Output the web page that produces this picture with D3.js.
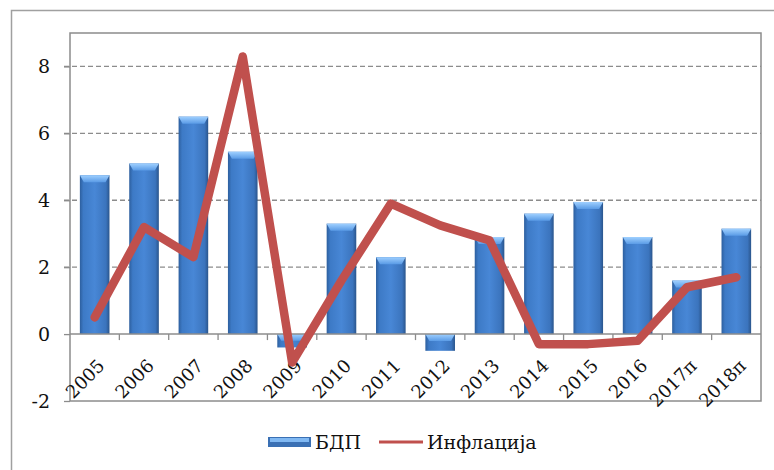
<!DOCTYPE html>
<html>
<head>
<meta charset="utf-8">
<script src="https://cdn.jsdelivr.net/npm/d3@7"></script>
<style>
  body { margin: 0; background: #fff; }
  text { font-family: "DejaVu Serif", "Liberation Serif", serif; fill: #111; }
</style>
</head>
<body>
<div id="chart"></div>
<script>
// data
var years = ["2005","2006","2007","2008","2009","2010","2011","2012","2013","2014","2015","2016","2017п","2018п"];
var gdp = [4.75, 5.1, 6.5, 5.45, -0.4, 3.3, 2.3, -0.5, 2.9, 3.6, 3.95, 2.9, 1.6, 3.15];
var inflation = [0.5, 3.2, 2.3, 8.3, -0.85, 1.6, 3.9, 3.25, 2.8, -0.3, -0.3, -0.2, 1.4, 1.7];
var yTicks = [-2, 0, 2, 4, 6, 8];
var seriesNames = ["БДП", "Инфлација"];

var W = 774, H = 470;
var margin = {top: 33, right: 13, bottom: 69, left: 70},
    width = W - margin.left - margin.right,
    height = H - margin.top - margin.bottom;

var svg = d3.select("#chart").append("svg")
    .attr("width", W).attr("height", H);

// gradients for the bevelled bars
var defs = svg.append("defs");
var g1 = defs.append("linearGradient").attr("id", "barGrad").attr("x1", 0).attr("x2", 1).attr("y1", 0).attr("y2", 0);
g1.append("stop").attr("offset", "0%").attr("stop-color", "#2d5f9e");
g1.append("stop").attr("offset", "12%").attr("stop-color", "#3d7ac6");
g1.append("stop").attr("offset", "50%").attr("stop-color", "#4887d6");
g1.append("stop").attr("offset", "88%").attr("stop-color", "#3b74bd");
g1.append("stop").attr("offset", "100%").attr("stop-color", "#2a558c");
var g2 = defs.append("linearGradient").attr("id", "topGrad").attr("x1", 0).attr("x2", 0).attr("y1", 0).attr("y2", 1);
g2.append("stop").attr("offset", "0%").attr("stop-color", "#9fd0ff");
g2.append("stop").attr("offset", "100%").attr("stop-color", "#5a9be6");

// outer frame
svg.append("path")
    .attr("d", "M11.5," + H + "V10.5H" + W)
    .attr("fill", "none").attr("stroke", "#a0a0a0").attr("stroke-width", 1.5);

var g = svg.append("g").attr("transform", "translate(" + margin.left + "," + margin.top + ")");

var x = d3.scaleBand().domain(years).range([0, width]).paddingInner(0.4).paddingOuter(0.2);
var y = d3.scaleLinear().domain([-2, 9]).range([height, 0]);

// gridlines
g.selectAll(".grid").data(yTicks.filter(function(d){ return d > 0; }))
  .enter().append("line")
    .attr("x1", -6).attr("x2", width)
    .attr("y1", function(d){ return y(d); }).attr("y2", function(d){ return y(d); })
    .attr("stroke", "#8c8c8c").attr("stroke-width", 1.3).attr("stroke-dasharray", "5,3");

// y axis
var yAxis = g.append("g").call(d3.axisLeft(y).tickValues(yTicks).tickSize(6).tickPadding(14)
    .tickFormat(function(d){ return String(d); }));
yAxis.select(".domain").remove();
yAxis.selectAll(".tick line").attr("stroke", "#8c8c8c").attr("stroke-width", 1.3);
yAxis.selectAll(".tick text").style("font-size", "19px").attr("fill", "#111").attr("font-family", "DejaVu Serif");

// plot border
g.append("rect").attr("x", 0).attr("y", 0).attr("width", width).attr("height", height)
    .attr("fill", "none").attr("stroke", "#8c8c8c").attr("stroke-width", 1.5);

// bars
var bars = g.append("g").selectAll("g").data(gdp).enter().append("g");
bars.append("rect")
    .attr("x", function(d,i){ return x(years[i]); })
    .attr("y", function(d){ return y(Math.max(0, d)); })
    .attr("width", x.bandwidth())
    .attr("height", function(d){ return Math.abs(y(d) - y(0)); })
    .attr("fill", "url(#barGrad)");
bars.append("path")
    .attr("d", function(d,i){
        var x0 = x(years[i]), bw = x.bandwidth(), t = y(Math.max(0, d));
        var h = Math.min(7, Math.abs(y(d) - y(0)) / 2);
        return "M" + x0 + "," + t + "H" + (x0 + bw) + "L" + (x0 + bw - 4) + "," + (t + h) + "H" + (x0 + 4) + "Z";
    })
    .attr("fill", "url(#topGrad)");

// zero axis with tick marks between categories
g.append("line").attr("x1", 0).attr("x2", width).attr("y1", y(0)).attr("y2", y(0))
    .attr("stroke", "#8c8c8c").attr("stroke-width", 1.5);
g.selectAll(".ctick").data(years.slice(1)).enter().append("line")
    .attr("x1", function(d){ return x(d) - x.step() * x.paddingInner() / 2; })
    .attr("x2", function(d){ return x(d) - x.step() * x.paddingInner() / 2; })
    .attr("y1", y(0)).attr("y2", y(0) + 6)
    .attr("stroke", "#8c8c8c").attr("stroke-width", 1.3);

// category labels
g.selectAll(".clabel").data(years).enter().append("text")
    .attr("transform", function(d){ return "translate(" + (x(d) + x.bandwidth() / 2 + 11) + "," + (height - 34) + ") rotate(-45)"; })
    .attr("text-anchor", "end")
    .style("font-size", "18px")
    .text(function(d){ return d; });

// inflation line
var line = d3.line()
    .x(function(d,i){ return x(years[i]) + x.bandwidth() / 2; })
    .y(function(d){ return y(d); });
g.append("path").datum(inflation)
    .attr("d", line)
    .attr("fill", "none").attr("stroke", "#c0504d").attr("stroke-width", 8.5)
    .attr("stroke-linejoin", "round").attr("stroke-linecap", "round");

// legend
var leg = svg.append("g").attr("transform", "translate(268,442)");
leg.append("rect").attr("x", 0).attr("y", -5).attr("width", 43).attr("height", 10).attr("fill", "#3a70b4");
leg.append("rect").attr("x", 2).attr("y", -4).attr("width", 39).attr("height", 4).attr("fill", "#80b8f2");
leg.append("text").attr("x", 47).attr("y", 7).style("font-size", "19px").text(seriesNames[0]);
leg.append("line").attr("x1", 111).attr("x2", 155).attr("y1", 0).attr("y2", 0)
    .attr("stroke", "#c0504d").attr("stroke-width", 3);
leg.append("text").attr("x", 159).attr("y", 7).style("font-size", "19px").text(seriesNames[1]);
</script>
</body>
</html>
